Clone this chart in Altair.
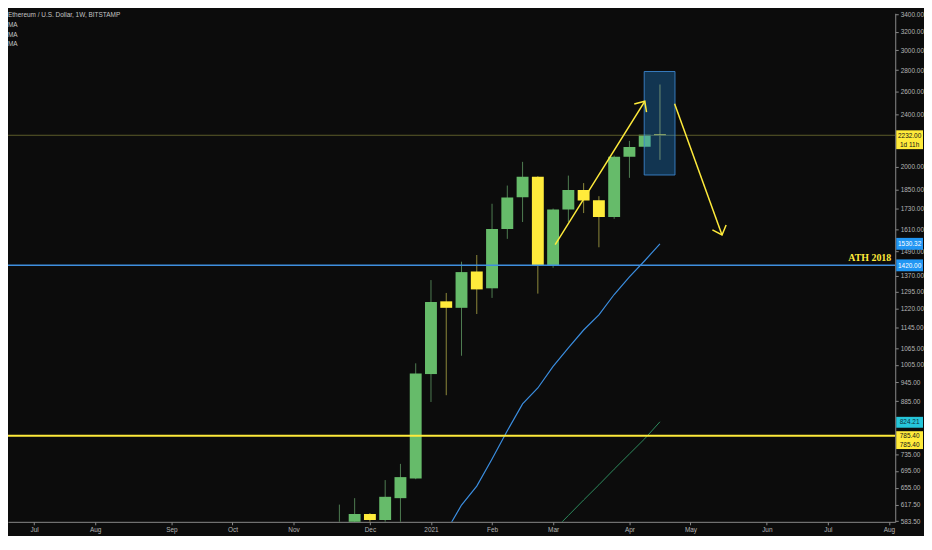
import altair as alt
import pandas as pd

# ---------------- data ----------------
week = ["2020-11-23", "2020-11-30", "2020-12-07", "2020-12-14", "2020-12-21", "2020-12-28",
        "2021-01-04", "2021-01-11", "2021-01-18", "2021-01-25", "2021-02-01", "2021-02-08",
        "2021-02-15", "2021-02-22", "2021-03-01", "2021-03-08", "2021-03-15", "2021-03-22",
        "2021-03-29", "2021-04-05", "2021-04-12", "2021-04-19"]
open_ = [480, 565, 598, 586, 632, 677, 973, 1253, 1225, 1390, 1311, 1611,
         1800, 1933, 1417, 1724, 1846, 1781, 1680, 2071, 2145, 2240]
high = [618, 632, 600, 673, 712, 1010, 1349, 1290, 1438, 1472, 1759, 1874,
        2035, 1936, 1730, 1940, 1890, 1806, 2080, 2189, 2240, 2663]
low = [470, 540, 560, 578, 570, 675, 883, 904, 1037, 1199, 1268, 1557,
       1651, 1287, 1408, 1651, 1703, 1512, 1669, 1925, 2140, 2049]
close = [565, 598, 586, 635, 680, 975, 1250, 1225, 1387, 1306, 1611, 1798,
         1933, 1417, 1724, 1846, 1779, 1680, 2072, 2143, 2236, 2232]

ma_fast_week = ["2021-01-11", "2021-01-18", "2021-01-25", "2021-02-01", "2021-02-08",
                "2021-02-15", "2021-02-22", "2021-03-01", "2021-03-08", "2021-03-15",
                "2021-03-22", "2021-03-29", "2021-04-05", "2021-04-12", "2021-04-19"]
ma_fast = [563, 617, 659, 724, 799, 877, 927, 999, 1066, 1134, 1195, 1283, 1364, 1443, 1530.32]
ma_slow_week = ["2021-03-01", "2021-03-08", "2021-03-15", "2021-03-22", "2021-03-29",
                "2021-04-05", "2021-04-12", "2021-04-19"]
ma_slow = [564, 595, 628, 662, 699, 737, 777, 824.21]

last_price = 2232.0
ath_2018 = 1420.0
support = 785.4

box_time = ["2021-04-11T18:30:00Z", "2021-04-25T21:30:00Z"]
box_price = [1944.0, 2786.0]
arrow_up_time = ["2021-03-01T23:00:00Z", "2021-04-12T01:00:00Z"]
arrow_up_price = [1526.0, 2512.0]
arrow_down_time = ["2021-04-25T17:00:00Z", "2021-05-17T11:00:00Z"]
arrow_down_price = [2490.0, 1578.0]

y_ticks = [583.5, 617.5, 655, 695, 735, 885, 945, 1005, 1065, 1145, 1220, 1295, 1370,
           1490, 1610, 1730, 1850, 2000, 2400, 2600, 2800, 3000, 3200, 3400]
month_ticks = ["2020-07-06", "2020-08-03", "2020-09-07", "2020-10-05", "2020-11-02",
               "2020-12-07", "2021-01-04", "2021-02-01", "2021-03-01", "2021-04-05",
               "2021-05-03", "2021-06-07", "2021-07-05", "2021-08-02"]
header = ["Ethereum / U.S. Dollar, 1W, BITSTAMP", "MA", "MA", "MA"]
x_domain = ["2020-06-24 01:12", "2021-08-04 21:22"]
y_domain = [582.1, 3411.4]

# ---------------- styling ----------------
TOTAL_W, TOTAL_H = 924, 528
BG = "#0c0c0c"
FONT = "Liberation Sans"
UP, DOWN = "#66bb6a", "#ffeb3b"
UP_WICK, DOWN_WICK = "#4f7d52", "#8f8a3c"
YEL = "#ffeb3b"
BLUE = "#3f8fdf"
AXC = "#8a8a8a"
LAB = "#b5b5b5"


def ms(s):
    return int(pd.Timestamp(s).tz_localize("UTC").value // 1_000_000)


def px(expr):
    return alt.value({"expr": expr})


xscale = alt.Scale(type="utc", domain=[ms(d) for d in x_domain])
yscale = alt.Scale(type="log", domain=y_domain, nice=False, zero=False)
xaxis = alt.Axis(values=[ms(d) for d in month_ticks],
                 labelExpr="utcFormat(datum.value, '%m') == '01' ? utcFormat(datum.value, '%Y') : utcFormat(datum.value, '%b')",
                 title=None, grid=False, tickSize=3, tickColor=AXC, domainColor=AXC,
                 labelColor=LAB, labelFontSize=6.5, labelFont=FONT, labelPadding=2,
                 labelFlush=False, labelOverlap=False)
yaxis = alt.Axis(orient="right", values=y_ticks, format=".2f", title=None, grid=False,
                 tickSize=3, tickColor=AXC, domainColor=AXC, labelColor=LAB,
                 labelFontSize=6.5, labelFont=FONT, labelPadding=2, labelOverlap=False,
                 labelFlush=False)


def X(f):
    return alt.X(f"{f}:T", scale=xscale, axis=xaxis)


def Y(f):
    return alt.Y(f"{f}:Q", scale=yscale, axis=yaxis)


candles = pd.DataFrame({"date": week, "open": open_, "high": high, "low": low, "close": close})
candles["dir"] = ["up" if c >= o else "down" for o, c in zip(open_, close)]
base = alt.Chart(candles)

layers = []
for d, wc, bc in [("up", UP_WICK, UP), ("down", DOWN_WICK, DOWN)]:
    f = base.transform_filter(alt.datum.dir == d)
    layers.append(f.mark_rule(color=wc, strokeWidth=1, clip=True).encode(
        x=X("date"), y=Y("low"), y2="high"))
    layers.append(f.mark_rule(color=bc, strokeWidth=12, strokeCap="butt", clip=True).encode(
        x=X("date"), y=Y("open"), y2="close"))

ma1 = pd.DataFrame({"date": ma_fast_week, "v": ma_fast})
ma2 = pd.DataFrame({"date": ma_slow_week, "v": ma_slow})
layers.append(alt.Chart(ma1).mark_line(color="#3b8ee0", strokeWidth=1.2, clip=True).encode(
    x=X("date"), y=Y("v")))
layers.append(alt.Chart(ma2).mark_line(color="#2e8b5e", strokeWidth=1, clip=True).encode(
    x=X("date"), y=Y("v")))

for p, col, sw in [(last_price, "#5d5c2a", 1), (ath_2018, BLUE, 1.5), (support, YEL, 2)]:
    layers.append(alt.Chart(pd.DataFrame({"p": [p]})).mark_rule(
        color=col, strokeWidth=sw, clip=True).encode(y=Y("p")))

box = pd.DataFrame({"t1": [box_time[0]], "t2": [box_time[1]],
                    "p1": [box_price[0]], "p2": [box_price[1]]})
layers.append(alt.Chart(box).mark_rect(fill="#2196f3", fillOpacity=0.3, stroke="#3b85cc",
                                       strokeOpacity=0.9, strokeWidth=1).encode(
    x=X("t1"), x2="t2", y=Y("p1"), y2="p2"))

CHEVRON = "M -0.67 0.74 L 0 0 L 0.67 0.74"
for tt, pp, ang in [(arrow_up_time, arrow_up_price, 33), (arrow_down_time, arrow_down_price, 160)]:
    a = pd.DataFrame({"t1": [tt[0]], "t2": [tt[1]], "p1": [pp[0]], "p2": [pp[1]]})
    layers.append(alt.Chart(a).mark_rule(color=YEL, strokeWidth=1.5).encode(
        x=X("t1"), x2="t2", y=Y("p1"), y2="p2"))
    layers.append(alt.Chart(a).mark_point(shape=CHEVRON, filled=False, size=484, strokeWidth=1.5,
                                          color=YEL, opacity=1, angle=ang).encode(
        x=X("t2"), y=Y("p2")))

layers.append(alt.Chart(pd.DataFrame({"p": [ath_2018], "t": ["ATH 2018"]})).mark_text(
    align="right", baseline="bottom", dy=-2, font="Liberation Serif", fontWeight="bold",
    fontSize=10, color=YEL).encode(y=Y("p"), x=px("width - 4"), text="t:N"))

for i, line in enumerate(header):
    layers.append(alt.Chart(pd.DataFrame({"t": [line]})).mark_text(
        align="left", baseline="middle", font=FONT, fontSize=6.5, color="#c4c4c4").encode(
        x=alt.value(0), y=alt.value(1.5 + 10 * i), text="t:N"))


def tag(price, texts, fill, ink, off, hgt):
    half = hgt / 27.0
    shape = f"M -1 {-half:.3f} L 1 {-half:.3f} L 1 {half:.3f} L -1 {half:.3f} Z"
    out = [alt.Chart(pd.DataFrame({"p": [price]})).mark_point(
        shape=shape, filled=True, size=729, fill=fill, stroke=None, opacity=1,
        yOffset=off).encode(y=Y("p"), x=px("width + 14.5"))]
    for i, t in enumerate(texts):
        out.append(alt.Chart(pd.DataFrame({"p": [price], "t": [t]})).mark_text(
            align="center", baseline="middle", font=FONT, fontSize=6.5, color=ink,
            dy=0.5 + 9 * i).encode(y=Y("p"), x=px("width + 14.5"), text="t:N"))
    return out


layers += tag(last_price, ["2232.00", "1d 11h"], YEL, "#151515", 4.5, 19)
layers += tag(ma_fast[-1], ["1530.32"], "#2196f3", "#ffffff", 0, 12)
layers += tag(ath_2018, ["1420.00"], "#2196f3", "#ffffff", 0, 12)
layers += tag(ma_slow[-1], ["824.21"], "#26c6da", "#10303a", 0.5, 11)
layers += tag(support, ["785.40", "785.40"], YEL, "#151515", 4.5, 18)

chart = alt.layer(*layers).properties(
    width=TOTAL_W, height=TOTAL_H, background=BG,
    padding={"left": 0, "top": 0, "right": 0, "bottom": 0},
    autosize=alt.AutoSizeParams(type="fit", contains="padding"),
).configure_view(stroke=None)

chart.save("out.html", embed_options={"renderer": "svg", "actions": False})
